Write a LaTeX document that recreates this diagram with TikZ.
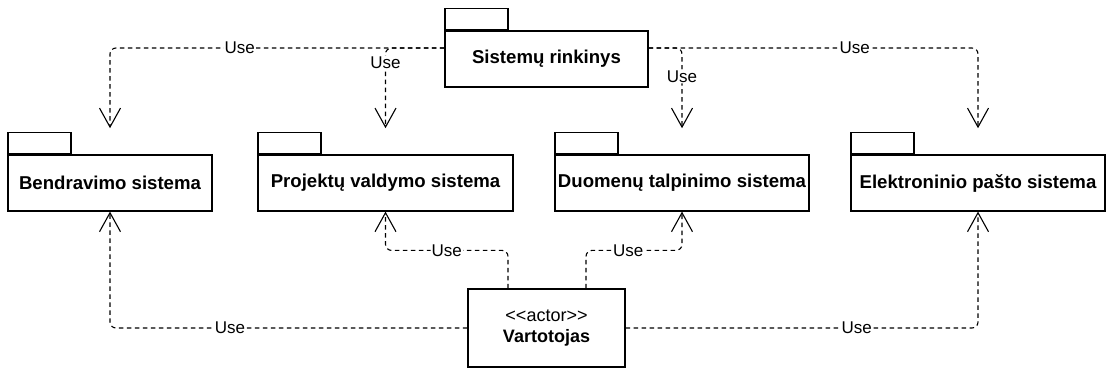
\documentclass[tikz,border=0pt]{standalone}
\usepackage{fontspec}
\setmainfont{Liberation Sans}
\usetikzlibrary{arrows.meta,calc}
\begin{document}
\begin{tikzpicture}[x=1pt,y=-1pt,
  pkg/.style={draw, line width=1.2pt, minimum height=56pt, inner sep=0pt,
    font=\bfseries\fontsize{18.6}{20}\selectfont},
  pkgtab/.style={draw, line width=1.2pt, minimum width=63pt, minimum height=21pt,
    inner sep=0pt, anchor=south west},
  actorbox/.style={draw, line width=1.2pt, minimum width=157pt, minimum height=78pt,
    inner sep=0pt, align=center, font=\fontsize{18}{21}\selectfont},
  dep/.style={line width=1.1pt, dash pattern=on 4.5pt off 3.5pt, rounded corners=6pt,
    -{Straight Barb[length=19pt,width=21pt,line width=1.1pt]}},
  lbl/.style={fill=white, inner sep=1pt, font=\fontsize{17}{19}\selectfont}]
\useasboundingbox (0,0) rectangle (1107,370);

% packages
\node[pkg, minimum width=203pt] (sys) at (546.5,59) {Sistemų rinkinys};
\node[pkgtab] (systab) at (sys.north west) {};
\node[pkg, minimum width=204pt] (bend) at (110,183) {Bendravimo sistema};
\node[pkgtab] (bendtab) at (bend.north west) {};
\node[pkg, minimum width=255pt] (proj) at (385.5,183) {Projektų valdymo sistema};
\node[pkgtab] (projtab) at (proj.north west) {};
\node[pkg, minimum width=254pt] (duom) at (682,183) {Duomenų talpinimo sistema};
\node[pkgtab] (duomtab) at (duom.north west) {};
\node[pkg, minimum width=254pt] (elek) at (978,183) {Elektroninio pašto sistema};
\node[pkgtab] (elektab) at (elek.north west) {};

% actor
\node[actorbox] (act) at (546.5,328) {<\kern0pt<actor>\kern0pt>\\\textbf{Vartotojas}};

% connection points
\coordinate (sysL) at ([yshift=11pt]sys.west);
\coordinate (sysR) at ([yshift=11pt]sys.east);
\coordinate (bendin) at ([yshift=4pt]bend.north |- bendtab.north);
\coordinate (projin) at ([yshift=4pt]proj.north |- projtab.north);
\coordinate (duomin) at ([yshift=4pt]duom.north |- duomtab.north);
\coordinate (elekin) at ([yshift=4pt]elek.north |- elektab.north);
\coordinate (actA) at ([xshift=-38.5pt]act.north);
\coordinate (actB) at ([xshift=39.5pt]act.north);

% top dependencies
\draw[dep] (sysL) -| node[lbl, pos=0.306] {Use} (bendin);
\draw[dep] (sysL) -| node[lbl, pos=0.59] {Use} (projin);
\draw[dep] (sysR) -| node[lbl, pos=0.677] {Use} (duomin);
\draw[dep] (sysR) -| node[lbl, pos=0.313] {Use} (elekin);

% bottom dependencies
\draw[dep] (act.west) -| node[lbl, pos=0.332] {Use} (bend.south);
\draw[dep] (act.east) -| node[lbl, pos=0.328] {Use} (elek.south);
\draw[dep] (actA) -- ([yshift=38pt]actA) -| node[lbl, pos=0.25] {Use} (proj.south);
\draw[dep] (actB) -- ([yshift=38pt]actB) -| node[lbl, pos=0.22] {Use} (duom.south);
\end{tikzpicture}
\end{document}
